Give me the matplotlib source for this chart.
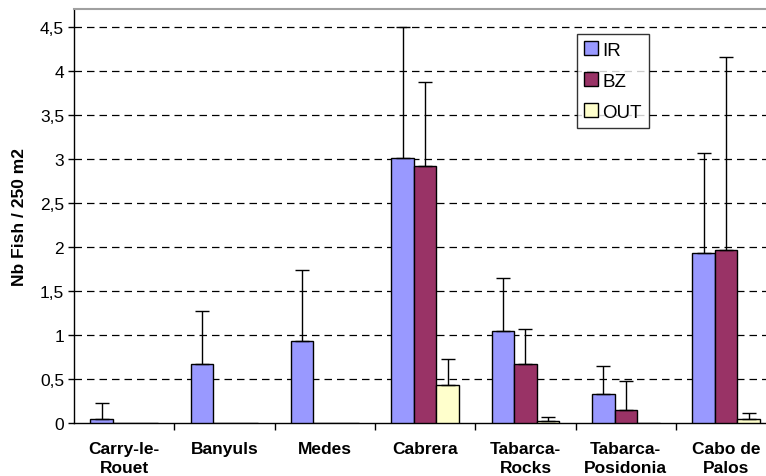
import matplotlib.pyplot as plt
import numpy as np
from matplotlib.ticker import FixedLocator, FuncFormatter

plt.rcParams['font.family'] = ['Liberation Sans', 'DejaVu Sans']

sites = ['Carry-le-\nRouet', 'Banyuls', 'Medes', 'Cabrera', 'Tabarca-\nRocks',
         'Tabarca-\nPosidonia', 'Cabo de\nPalos']
series = ['IR', 'BZ', 'OUT']
colors = ['#9999FF', '#993366', '#FFFFCC']

ir_mean = [0.05, 0.67, 0.93, 3.01, 1.05, 0.33, 1.93]
bz_mean = [0.0, 0.0, 0.0, 2.92, 0.67, 0.15, 1.97]
out_mean = [0.0, 0.0, 0.0, 0.43, 0.02, 0.0, 0.05]

ir_err = [0.18, 0.60, 0.81, 1.49, 0.60, 0.32, 1.14]
bz_err = [0.0, 0.0, 0.0, 0.95, 0.40, 0.33, 2.18]
out_err = [0.0, 0.0, 0.0, 0.30, 0.05, 0.0, 0.06]

means = [ir_mean, bz_mean, out_mean]
errs = [ir_err, bz_err, out_err]

fig = plt.figure(figsize=(7.66, 4.77), dpi=100)
ax = fig.add_axes([0.0965, 0.111, 0.917, 0.868])

x = np.arange(len(sites))
w = 0.225
for i, (name, col) in enumerate(zip(series, colors)):
    pos = x + (i - 1) * w
    vals = np.array(means[i])
    e = np.array(errs[i])
    ax.bar(pos, vals, width=w, color=col, edgecolor='black', linewidth=1,
           label=name, zorder=3)
    mask = e > 0
    ax.errorbar(pos[mask], vals[mask], yerr=[np.zeros(mask.sum()), e[mask]],
                fmt='none', ecolor='black', elinewidth=1, capsize=5,
                capthick=1, zorder=4)

ax.set_xlim(-0.5, len(sites) - 0.5)
ax.set_ylim(0, 4.70)

ax.yaxis.set_major_locator(FixedLocator(np.arange(0, 4.51, 0.5)))
ax.yaxis.set_major_formatter(FuncFormatter(lambda v, p: ('%g' % v).replace('.', ',')))
ax.tick_params(axis='y', labelsize=12.5, direction='out', length=4, width=1, pad=3)
for yv in np.arange(0.5, 4.51, 0.5):
    ax.axhline(yv, color='black', linestyle=(0, (6, 4)), linewidth=0.9, zorder=1)

ax.set_xticks(x)
ax.set_xticklabels(sites, fontsize=12.5, fontweight='bold', linespacing=1.35)
ax.tick_params(axis='x', length=0, pad=13)
ax.xaxis.set_minor_locator(FixedLocator(np.arange(0.5, len(sites) - 0.5, 1)))
ax.tick_params(axis='x', which='minor', direction='out', length=5, width=1)

ax.set_ylabel('Nb Fish / 250 m2', fontsize=12.5, fontweight='bold', labelpad=9)

ax.spines['top'].set_color('#A0A0A0')
ax.spines['top'].set_linewidth(1.5)
ax.spines['right'].set_visible(False)
ax.spines['left'].set_linewidth(1)
ax.spines['bottom'].set_linewidth(1)

leg = ax.legend(loc='upper left', bbox_to_anchor=(0.716, 0.94), fontsize=13.5,
                frameon=True, fancybox=False, edgecolor='black',
                handlelength=0.75, handleheight=0.75, handletextpad=0.2,
                labelspacing=0.72, borderpad=0.4, borderaxespad=0)
leg.get_frame().set_linewidth(1)

fig.savefig('out.png', dpi=100)
